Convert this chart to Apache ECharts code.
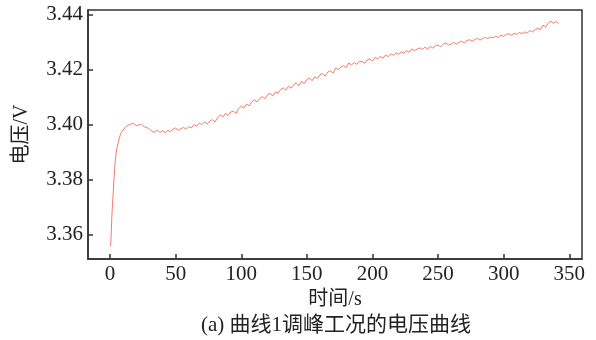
<!DOCTYPE html>
<html>
<head>
<meta charset="utf-8">
<script src="https://cdn.jsdelivr.net/npm/echarts@6/dist/echarts.min.js"></script>
<style>html,body{margin:0;padding:0;background:#fff}#c{width:596px;height:340px}</style>
</head>
<body>
<div id="c"></div>
<script>
const times = [0.5,1.5,3,4,5,6,7,8,9,10,12,14,16,18,20,22,24,26,28,30,32,34,36,38,40,42,44,46,48,50,52,54,56,58,60,62,64,66,68,70,72,74,76,78,80,82,84,86,88,90,92,94,96,98,100,102,104,106,108,110,112,114,116,118,120,122,124,126,128,130,132,134,136,138,140,142,144,146,148,150,152,154,156,158,160,162,164,166,168,170,172,174,176,178,180,182,184,186,188,190,192,194,196,198,200,202,204,206,208,210,212,214,216,218,220,222,224,226,228,230,232,234,236,238,240,242,244,246,248,250,252,254,256,258,260,262,264,266,268,270,272,274,276,278,280,282,284,286,288,290,292,294,296,298,300,302,304,306,308,310,312,314,316,318,320,322,324,326,328,330,332,334,336,338,340,342];
const voltage = [3.3556,3.3678,3.3800,3.3870,3.3910,3.3930,3.3950,3.3965,3.3975,3.3980,3.3992,3.3998,3.4003,3.4004,3.3996,3.3999,3.4001,3.3992,3.3990,3.3983,3.3976,3.3972,3.3980,3.3972,3.3978,3.3970,3.3979,3.3974,3.3983,3.3988,3.3979,3.3985,3.3990,3.3983,3.3993,3.3988,3.4000,3.3994,3.4006,3.4000,3.4010,3.4003,3.4013,3.4018,3.4010,3.4025,3.4036,3.4028,3.4041,3.4033,3.4046,3.4049,3.4041,3.4058,3.4068,3.4060,3.4075,3.4068,3.4083,3.4091,3.4083,3.4095,3.4102,3.4094,3.4109,3.4114,3.4104,3.4120,3.4114,3.4128,3.4134,3.4125,3.4140,3.4133,3.4146,3.4152,3.4142,3.4158,3.4150,3.4164,3.4170,3.4160,3.4175,3.4168,3.4182,3.4186,3.4176,3.4192,3.4196,3.4188,3.4207,3.4201,3.4210,3.4215,3.4208,3.4225,3.4218,3.4226,3.4220,3.4230,3.4231,3.4223,3.4236,3.4240,3.4232,3.4245,3.4240,3.4249,3.4242,3.4254,3.4248,3.4258,3.4253,3.4262,3.4256,3.4266,3.4260,3.4270,3.4264,3.4276,3.4270,3.4275,3.4280,3.4274,3.4282,3.4276,3.4285,3.4279,3.4288,3.4290,3.4284,3.4294,3.4298,3.4290,3.4294,3.4300,3.4294,3.4300,3.4304,3.4298,3.4306,3.4310,3.4304,3.4310,3.4315,3.4308,3.4314,3.4318,3.4314,3.4319,3.4317,3.4322,3.4318,3.4326,3.4322,3.4329,3.4331,3.4326,3.4333,3.4329,3.4336,3.4332,3.4338,3.4334,3.4343,3.4338,3.4346,3.4352,3.4346,3.4363,3.4356,3.4370,3.4377,3.4369,3.4376,3.4369];
const xTicks = [0,50,100,150,200,250,300,350];
const yTicks = [3.36,3.38,3.40,3.42,3.44];
const xName = '时间/s';
const yName = '电压/V';
const caption = '(a) 曲线1调峰工况的电压曲线';

const font = "'Liberation Serif','Noto Sans CJK SC',serif";
const chart = echarts.init(document.getElementById('c'), null, {renderer:'canvas'});
const data = times.map((t,i)=>[t, voltage[i]]);
chart.setOption({
  animation:false,
  grid:{left:88, top:10, right:14, bottom:81, show:true, borderColor:'#333', borderWidth:1.5},
  xAxis:{type:'value', min:-16.8, max:359.7,
    name:xName, nameLocation:'middle', nameGap:27,
    nameTextStyle:{fontFamily:font, fontSize:20, color:'#222'},
    axisLine:{show:true, onZero:false, lineStyle:{color:'#333', width:1.5}},
    axisTick:{show:true, inside:true, length:5, customValues:xTicks, lineStyle:{color:'#333', width:1.5}},
    axisLabel:{customValues:xTicks, margin:5, fontFamily:font, fontSize:21, color:'#222'},
    splitLine:{show:false}},
  yAxis:{type:'value', min:3.351, max:3.4418,
    name:yName, nameLocation:'middle', nameGap:56, nameRotate:90,
    nameTextStyle:{fontFamily:font, fontSize:20, color:'#222'},
    axisLine:{show:true, onZero:false, lineStyle:{color:'#333', width:1.5}},
    axisTick:{show:true, inside:true, length:5, customValues:yTicks, lineStyle:{color:'#333', width:1.5}},
    axisLabel:{customValues:yTicks, margin:5, fontFamily:font, fontSize:21, color:'#222',
      formatter:v=>v.toFixed(2)},
    splitLine:{show:false}},
  series:[{type:'line', data:data, showSymbol:false, symbol:'none',
    lineStyle:{color:'#f27b6c', width:1}}],
  graphic:[{type:'text', x:336, y:325, style:{text:caption, textAlign:'center', textVerticalAlign:'middle',
    font:"21px 'Liberation Serif','Noto Sans CJK SC',serif", fill:'#222'}}]
});
</script>
</body>
</html>
